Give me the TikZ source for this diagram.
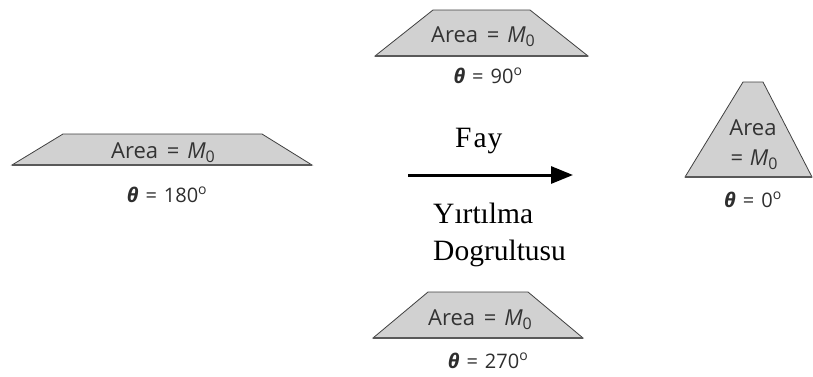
\documentclass[tikz,border=0pt]{standalone}
\usepackage{fontspec}
\setmainfont{Liberation Serif}
\newfontfamily\lblfont{Open Sans}
\usetikzlibrary{arrows.meta}
\tikzset{
  trap/.style={fill=black!18, draw=black!75, line width=0.8pt, line join=miter},
  baseln/.style={draw=black!65, line width=1.8pt},
  arealbl/.style={font=\lblfont\fontsize{22}{26}\selectfont, text=black!80, inner sep=0pt, anchor=base},
  anglbl/.style={font=\lblfont\fontsize{20}{24}\selectfont, text=black!82, inner sep=0pt, anchor=base},
  serlbl/.style={font=\fontsize{29.5}{34}\selectfont, inner sep=0pt, anchor=base west},
}
\newcommand{\thetalbl}[1]{\textbf{\textit{θ}}\hspace{0.35em}=\hspace{0.35em}#1\textsuperscript{o}}
\newcommand{\subzero}{\raisebox{-0.22em}{\fontsize{16}{18}\selectfont 0}}
\newcommand{\areatxt}{Area\hspace{0.4em}=\hspace{0.35em}\textit{M}\subzero}
\begin{document}
\begin{tikzpicture}[x=1pt,y=-1pt]
\useasboundingbox (0,0) rectangle (813,376);
% left, theta = 180
\coordinate (l1) at (12,165); \coordinate (l2) at (63,134);
\coordinate (l3) at (262,134); \coordinate (l4) at (312,165);
\filldraw[trap] (l1) -- (l2) -- (l3) -- (l4) -- cycle;
\draw[baseln] (l1) -- (l4);
\node[arealbl] (la) at (163,158) {\areatxt};
\node[anglbl] (lt) at (167,202) {\thetalbl{180}};
% top, theta = 90
\coordinate (t1) at (375,56); \coordinate (t2) at (433,10);
\coordinate (t3) at (530,10); \coordinate (t4) at (588,56);
\filldraw[trap] (t1) -- (t2) -- (t3) -- (t4) -- cycle;
\draw[baseln] (t1) -- (t4);
\node[arealbl] (ta) at (483,42) {\areatxt};
\node[anglbl] (tt) at (488,83) {\thetalbl{90}};
% bottom, theta = 270
\coordinate (b1) at (373,338); \coordinate (b2) at (428,292);
\coordinate (b3) at (528,292); \coordinate (b4) at (583,338);
\filldraw[trap] (b1) -- (b2) -- (b3) -- (b4) -- cycle;
\draw[baseln] (b1) -- (b4);
\node[arealbl] (ba) at (480,325) {\areatxt};
\node[anglbl] (bt) at (488,368) {\thetalbl{270}};
% right, theta = 0
\coordinate (r1) at (685,177); \coordinate (r2) at (743,82);
\coordinate (r3) at (763,82); \coordinate (r4) at (812,177);
\filldraw[trap] (r1) -- (r2) -- (r3) -- (r4) -- cycle;
\draw[baseln] (r1) -- (r4);
\node[arealbl] (ra1) at (753,135) {Area};
\node[arealbl] (ra2) at (754,165) {=\hspace{0.3em}\textit{M}\subzero};
\node[anglbl] (rt) at (753,207) {\thetalbl{0}};
% arrow and labels
\coordinate (as) at (408,175); \coordinate (ae) at (573,175);
\draw[line width=3pt, -{Triangle[length=22pt,width=17pt]}] (as) -- (ae);
\node[serlbl] (fay) at (455,147) {F\kern2pt a\kern1pt y};
\node[serlbl] (yir) at (433,223) {Yırtılma};
\node[serlbl] (dog) at (433,260) {Dogrultusu};
\end{tikzpicture}
\end{document}
